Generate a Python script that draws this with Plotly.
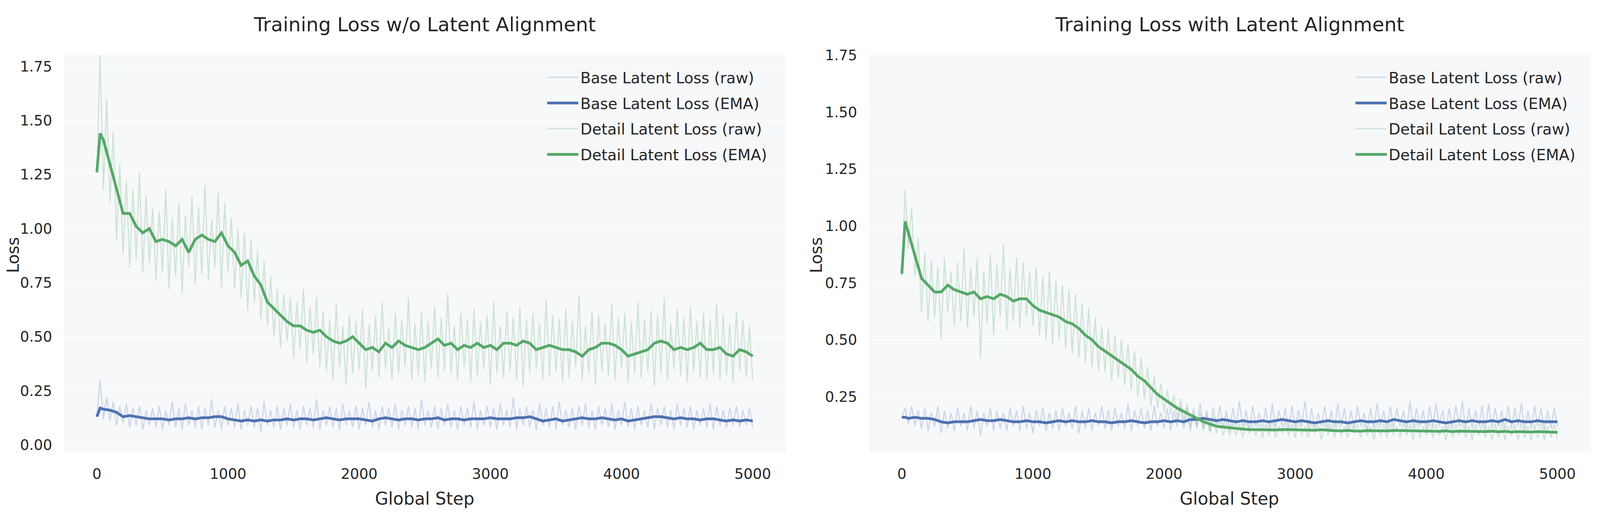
import plotly.graph_objects as go

# ---------------- data ----------------
RAW_STEPS = list(range(0, 5001, 25))
EMA_STEPS = [0, 25] + list(range(50, 5001, 50))

L_BASE_RAW = [0.13, 0.30, 0.12, 0.22, 0.11,
    0.20, 0.09, 0.18, 0.10, 0.19, 0.08, 0.17, 0.09, 0.18, 0.07, 0.16, 0.09, 0.17, 0.08,
    0.18, 0.07, 0.16, 0.09, 0.20, 0.08, 0.17, 0.07, 0.19, 0.09, 0.16, 0.08, 0.18, 0.07,
    0.17, 0.09, 0.21, 0.08, 0.16, 0.07, 0.18, 0.09, 0.17, 0.08, 0.19, 0.07, 0.16, 0.09,
    0.18, 0.08, 0.17, 0.06, 0.20, 0.09, 0.16, 0.08, 0.18, 0.07, 0.17, 0.09, 0.19, 0.08,
    0.16, 0.07, 0.18, 0.09, 0.17, 0.08, 0.21, 0.07, 0.16, 0.09, 0.18, 0.08, 0.17, 0.07,
    0.19, 0.09, 0.16, 0.08, 0.18, 0.07, 0.17, 0.09, 0.20, 0.08, 0.16, 0.07, 0.18, 0.09,
    0.17, 0.08, 0.19, 0.07, 0.16, 0.09, 0.18, 0.08, 0.17, 0.07, 0.21, 0.09, 0.16, 0.08,
    0.18, 0.07, 0.17, 0.09, 0.19, 0.08, 0.16, 0.07, 0.18, 0.09, 0.17, 0.08, 0.20, 0.07,
    0.16, 0.09, 0.18, 0.08, 0.17, 0.07, 0.19, 0.09, 0.16, 0.08, 0.22, 0.07, 0.17, 0.09,
    0.18, 0.08, 0.16, 0.07, 0.19, 0.09, 0.17, 0.08, 0.18, 0.07, 0.20, 0.09, 0.16, 0.08,
    0.17, 0.07, 0.18, 0.09, 0.19, 0.08, 0.16, 0.07, 0.18, 0.09, 0.17, 0.08, 0.19, 0.07,
    0.16, 0.09, 0.20, 0.08, 0.17, 0.07, 0.18, 0.09, 0.16, 0.08, 0.19, 0.07, 0.17, 0.09,
    0.18, 0.08, 0.16, 0.07, 0.19, 0.09, 0.17, 0.08, 0.18, 0.07, 0.16, 0.09, 0.17, 0.08,
    0.19, 0.07, 0.18, 0.09, 0.16, 0.08, 0.17, 0.09, 0.18, 0.08, 0.16, 0.09, 0.17, 0.08]

L_DET_RAW = [1.26, 1.80, 1.18, 1.60, 1.12,
    1.45, 0.95, 1.30, 0.88, 1.22, 0.82, 1.18, 0.86, 1.26, 0.80, 1.15, 0.84,
    1.10, 0.76, 1.08, 0.80, 1.18, 0.72, 1.05, 0.78, 1.12, 0.70, 1.06, 0.82,
    1.15, 0.74, 1.10, 0.79, 1.20, 0.76, 1.04, 0.82, 1.17, 0.73, 1.12, 0.80,
    1.05, 0.72, 1.00, 0.68, 0.98, 0.62, 0.95, 0.66, 0.90, 0.58, 0.85, 0.55,
    0.78, 0.50, 0.72, 0.45, 0.70, 0.48, 0.68, 0.40, 0.66, 0.44, 0.72, 0.38, 0.64, 0.42, 0.68, 0.36,
    0.62, 0.34, 0.58, 0.30, 0.65, 0.36, 0.55, 0.28, 0.60, 0.33, 0.57, 0.35,
    0.63, 0.26, 0.56, 0.34, 0.60, 0.31, 0.66, 0.35, 0.54, 0.30, 0.61, 0.33,
    0.58, 0.36, 0.68, 0.30, 0.56, 0.32, 0.62, 0.29, 0.57, 0.35, 0.64, 0.31,
    0.59, 0.34, 0.70, 0.33, 0.55, 0.30, 0.61, 0.36, 0.58, 0.29, 0.63, 0.32,
    0.57, 0.35, 0.60, 0.28, 0.66, 0.33, 0.55, 0.31, 0.62, 0.34, 0.59, 0.30,
    0.64, 0.27, 0.58, 0.33, 0.61, 0.35, 0.56, 0.30, 0.67, 0.32, 0.60, 0.34,
    0.58, 0.29, 0.63, 0.31, 0.57, 0.36, 0.69, 0.30, 0.55, 0.33, 0.62, 0.28,
    0.60, 0.34, 0.56, 0.32, 0.65, 0.30, 0.59, 0.35, 0.61, 0.29, 0.57, 0.33,
    0.66, 0.31, 0.58, 0.34, 0.62, 0.27, 0.60, 0.33, 0.68, 0.30, 0.56, 0.35,
    0.63, 0.32, 0.59, 0.29, 0.64, 0.34, 0.57, 0.31, 0.61, 0.30, 0.58, 0.33,
    0.65, 0.30, 0.60, 0.32, 0.56, 0.29, 0.62, 0.34, 0.58, 0.31, 0.55, 0.30]

L_BASE_EMA = [0.13, 0.17, 0.165, 0.16, 0.15, 0.13, 0.135, 0.13, 0.125, 0.12,
    0.12, 0.12, 0.115, 0.12, 0.12, 0.125, 0.12, 0.125, 0.125, 0.13,
    0.13, 0.12, 0.115, 0.11, 0.115, 0.11, 0.115, 0.11, 0.115, 0.115,
    0.12, 0.115, 0.12, 0.12, 0.115, 0.12, 0.125, 0.12, 0.115, 0.12,
    0.12, 0.12, 0.115, 0.11, 0.12, 0.125, 0.12, 0.115, 0.12, 0.12,
    0.115, 0.12, 0.12, 0.125, 0.115, 0.12, 0.12, 0.115, 0.12, 0.12,
    0.12, 0.125, 0.12, 0.12, 0.12, 0.125, 0.125, 0.13, 0.12, 0.11,
    0.115, 0.12, 0.11, 0.115, 0.12, 0.125, 0.12, 0.12, 0.125, 0.12,
    0.115, 0.12, 0.11, 0.115, 0.12, 0.125, 0.13, 0.13, 0.125, 0.12,
    0.125, 0.12, 0.12, 0.115, 0.12, 0.12, 0.115, 0.11, 0.115, 0.11,
    0.115, 0.11]

L_DET_EMA = [1.26, 1.44, 1.41, 1.30, 1.18, 1.07, 1.07, 1.01, 0.98, 1.00,
    0.94, 0.95, 0.94, 0.92, 0.95, 0.89, 0.95, 0.97, 0.95, 0.94,
    0.98, 0.92, 0.89, 0.83, 0.85, 0.78, 0.74, 0.66, 0.63, 0.60,
    0.57, 0.55, 0.55, 0.53, 0.52, 0.53, 0.50, 0.48, 0.47, 0.48,
    0.50, 0.47, 0.44, 0.45, 0.43, 0.47, 0.45, 0.48, 0.46, 0.45,
    0.44, 0.45, 0.47, 0.49, 0.46, 0.47, 0.44, 0.46, 0.45, 0.47,
    0.45, 0.46, 0.44, 0.47, 0.47, 0.46, 0.48, 0.47, 0.44, 0.45,
    0.46, 0.45, 0.44, 0.44, 0.43, 0.41, 0.44, 0.45, 0.47, 0.47,
    0.46, 0.44, 0.41, 0.42, 0.43, 0.44, 0.47, 0.48, 0.47, 0.44,
    0.45, 0.44, 0.45, 0.47, 0.44, 0.44, 0.45, 0.42, 0.41, 0.44,
    0.43, 0.41]

R_BASE_RAW = [0.16, 0.20, 0.13, 0.21, 0.12,
    0.19, 0.11, 0.20, 0.10, 0.18, 0.12, 0.21, 0.09, 0.19, 0.11, 0.18, 0.10, 0.20, 0.12,
    0.18, 0.10, 0.21, 0.11, 0.19, 0.08, 0.18, 0.12, 0.20, 0.10, 0.19, 0.11, 0.18, 0.10,
    0.20, 0.12, 0.19, 0.10, 0.21, 0.11, 0.18, 0.09, 0.19, 0.12, 0.20, 0.10, 0.18, 0.11,
    0.19, 0.10, 0.20, 0.12, 0.18, 0.11, 0.21, 0.09, 0.19, 0.11, 0.20, 0.10, 0.18, 0.12,
    0.21, 0.11, 0.19, 0.10, 0.20, 0.12, 0.18, 0.11, 0.22, 0.10, 0.19, 0.12, 0.20, 0.11,
    0.19, 0.10, 0.21, 0.12, 0.18, 0.11, 0.20, 0.10, 0.19, 0.12, 0.21, 0.11, 0.20, 0.10,
    0.18, 0.12, 0.22, 0.11, 0.19, 0.10, 0.20, 0.12, 0.21, 0.11, 0.19, 0.10, 0.20, 0.12,
    0.23, 0.11, 0.19, 0.10, 0.21, 0.12, 0.18, 0.11, 0.20, 0.10, 0.22, 0.11, 0.19, 0.12,
    0.20, 0.10, 0.21, 0.11, 0.19, 0.12, 0.23, 0.10, 0.20, 0.11, 0.18, 0.12, 0.21, 0.10,
    0.19, 0.11, 0.22, 0.12, 0.20, 0.10, 0.19, 0.11, 0.21, 0.12, 0.18, 0.10, 0.20, 0.11,
    0.22, 0.12, 0.19, 0.10, 0.21, 0.11, 0.20, 0.12, 0.19, 0.10, 0.23, 0.11, 0.20, 0.12,
    0.19, 0.10, 0.21, 0.11, 0.22, 0.12, 0.19, 0.10, 0.20, 0.11, 0.21, 0.12, 0.23, 0.10,
    0.20, 0.11, 0.19, 0.12, 0.21, 0.10, 0.22, 0.11, 0.20, 0.12, 0.19, 0.10, 0.21, 0.11,
    0.20, 0.12, 0.22, 0.10, 0.19, 0.11, 0.21, 0.12, 0.20, 0.10, 0.19, 0.11, 0.20, 0.12]

R_DET_RAW = [0.78, 1.16, 0.90, 1.08, 0.78,
    0.95, 0.62, 0.88, 0.58, 0.85, 0.60, 0.82, 0.50, 0.86, 0.62, 0.80, 0.56,
    0.84, 0.58, 0.90, 0.55, 0.82, 0.60, 0.86, 0.42, 0.80, 0.57, 0.88, 0.52,
    0.83, 0.60, 0.92, 0.54, 0.81, 0.58, 0.86, 0.55, 0.84, 0.60, 0.80, 0.56,
    0.82, 0.52, 0.78, 0.50, 0.80, 0.48, 0.76, 0.50, 0.74, 0.46,
    0.72, 0.44, 0.70, 0.42, 0.66, 0.40, 0.64, 0.38, 0.60, 0.36,
    0.56, 0.36, 0.55, 0.32, 0.52, 0.33, 0.50, 0.30, 0.48, 0.28,
    0.45, 0.25, 0.42, 0.24, 0.38, 0.21, 0.34, 0.20, 0.31, 0.18,
    0.28, 0.17, 0.26, 0.15, 0.24, 0.14, 0.22, 0.12, 0.20, 0.11,
    0.18, 0.10, 0.17, 0.09, 0.16, 0.09, 0.15, 0.08, 0.14, 0.08,
    0.14, 0.08, 0.13, 0.07, 0.15, 0.09, 0.13, 0.08, 0.14, 0.07,
    0.13, 0.08, 0.15, 0.07, 0.12, 0.09, 0.14, 0.08, 0.13, 0.07,
    0.15, 0.08, 0.12, 0.07, 0.14, 0.09, 0.13, 0.06, 0.14, 0.08,
    0.13, 0.07, 0.15, 0.08, 0.12, 0.07, 0.14, 0.09, 0.13, 0.07,
    0.14, 0.08, 0.12, 0.06, 0.15, 0.08, 0.13, 0.07, 0.14, 0.08,
    0.12, 0.07, 0.14, 0.08, 0.13, 0.06, 0.15, 0.07, 0.12, 0.08,
    0.14, 0.07, 0.13, 0.08, 0.12, 0.06, 0.14, 0.07, 0.13, 0.08,
    0.15, 0.07, 0.12, 0.06, 0.13, 0.08, 0.14, 0.07, 0.12, 0.06,
    0.13, 0.07, 0.14, 0.06, 0.12, 0.08, 0.13, 0.06, 0.14, 0.07,
    0.12, 0.06, 0.13, 0.07, 0.14, 0.06, 0.12, 0.07, 0.13, 0.07]

R_BASE_EMA = [0.16, 0.16, 0.155, 0.16, 0.155, 0.155, 0.15, 0.14, 0.135, 0.14,
    0.14, 0.14, 0.145, 0.15, 0.145, 0.145, 0.15, 0.145, 0.14, 0.14,
    0.145, 0.14, 0.14, 0.135, 0.14, 0.145, 0.14, 0.145, 0.14, 0.14,
    0.145, 0.14, 0.14, 0.135, 0.14, 0.14, 0.145, 0.14, 0.135, 0.14,
    0.14, 0.145, 0.14, 0.145, 0.14, 0.15, 0.15, 0.155, 0.15, 0.145,
    0.15, 0.145, 0.14, 0.145, 0.14, 0.14, 0.145, 0.14, 0.145, 0.15,
    0.145, 0.14, 0.145, 0.14, 0.135, 0.14, 0.145, 0.14, 0.14, 0.135,
    0.14, 0.145, 0.14, 0.14, 0.145, 0.14, 0.15, 0.145, 0.14, 0.145,
    0.14, 0.14, 0.145, 0.14, 0.135, 0.14, 0.145, 0.14, 0.145, 0.14,
    0.14, 0.145, 0.14, 0.15, 0.14, 0.145, 0.14, 0.14, 0.145, 0.14,
    0.14, 0.14]

R_DET_EMA = [0.79, 1.02, 0.97, 0.87, 0.77, 0.74, 0.71, 0.71, 0.74, 0.72,
    0.71, 0.70, 0.71, 0.68, 0.69, 0.68, 0.70, 0.69, 0.67, 0.68,
    0.68, 0.65, 0.63, 0.62, 0.61, 0.60, 0.58, 0.57, 0.55, 0.52,
    0.50, 0.47, 0.45, 0.43, 0.41, 0.39, 0.37, 0.34, 0.32, 0.29,
    0.26, 0.24, 0.22, 0.20, 0.185, 0.17, 0.155, 0.14, 0.13, 0.12,
    0.117, 0.113, 0.11, 0.108, 0.106, 0.105, 0.104, 0.103, 0.104, 0.106,
    0.105, 0.107, 0.105, 0.104, 0.103, 0.105, 0.102, 0.101, 0.100, 0.102,
    0.100, 0.099, 0.101, 0.100, 0.098, 0.100, 0.102, 0.101, 0.103, 0.100,
    0.101, 0.100, 0.099, 0.098, 0.100, 0.097, 0.099, 0.098, 0.100, 0.098,
    0.097, 0.099, 0.096, 0.098, 0.095, 0.097, 0.096, 0.095, 0.097, 0.096,
    0.095, 0.094]

TITLES = ["Training Loss w/o Latent Alignment", "Training Loss with Latent Alignment"]
X_TICKS = [0, 1000, 2000, 3000, 4000, 5000]
Y_TICKS_L = [0.00, 0.25, 0.50, 0.75, 1.00, 1.25, 1.50, 1.75]
Y_TICKS_R = [0.25, 0.50, 0.75, 1.00, 1.25, 1.50, 1.75]
NAMES = ["Base Latent Loss (raw)", "Base Latent Loss (EMA)",
         "Detail Latent Loss (raw)", "Detail Latent Loss (EMA)"]

# ---------------- style ----------------
FONT = "DejaVu Sans"
TXT = "#262626"
BLUE = "#4C72B0"
GREEN = "#55A868"
BLUE_RAW = "rgba(76,114,176,0.25)"
GREEN_RAW = "rgba(85,168,104,0.25)"
PLOT_BG = "#F7F8FA"

# browser viewport is 4096 px wide: horizontal geometry scaled from 5000 px reference
W, H = 4096, 1315
SX = W / 5000.0
ML, MR, MT, MB = round(190 * SX), round(40 * SX), 133, 167
PW = W - ML - MR
PH = H - MT - MB
LD = [0, (2445 * SX - ML) / PW]
RD = [(2706 * SX - ML) / PW, 1]

FS_TICK = 37
FS_LEG = 39
FS_AX = 42
FS_TITLE = 50

fig = go.Figure()

panels = [
    ("x", "y", "legend", L_BASE_RAW, L_BASE_EMA, L_DET_RAW, L_DET_EMA),
    ("x2", "y2", "legend2", R_BASE_RAW, R_BASE_EMA, R_DET_RAW, R_DET_EMA),
]
for pi, (xa, ya, lg, br, be, dr, de) in enumerate(panels):
    series = [
        (RAW_STEPS, br, BLUE_RAW, 3.0),
        (EMA_STEPS, be, BLUE, 7.0),
        (RAW_STEPS, dr, GREEN_RAW, 3.0),
        (EMA_STEPS, de, GREEN, 7.0),
    ]
    for si, (xs, ys, col, w) in enumerate(series):
        fig.add_trace(go.Scatter(
            x=xs, y=ys, mode="lines", name=NAMES[si],
            line=dict(color=col, width=w),
            xaxis=xa, yaxis=ya, legend=lg,
            legendgroup=f"p{pi}s{si}", showlegend=True,
        ))

axis_common = dict(
    showline=False, zeroline=False, ticks="outside", tickcolor="rgba(0,0,0,0)",
    tickfont=dict(family=FONT, size=FS_TICK, color=TXT),
)

leg_common = dict(xanchor="left", y=1 - (158 - MT) / PH, yanchor="top",
                  bgcolor="rgba(0,0,0,0)", font=dict(family=FONT, size=FS_LEG, color=TXT),
                  tracegroupgap=12, itemwidth=80)

fig.update_layout(
    width=W, height=H,
    margin=dict(l=ML, r=MR, t=MT, b=MB, pad=0),
    paper_bgcolor="white", plot_bgcolor=PLOT_BG,
    font=dict(family=FONT, color=TXT),
    xaxis=dict(domain=LD, range=[-250, 5250], tickvals=X_TICKS, showgrid=False,
               ticklen=24, anchor="y", **axis_common),
    yaxis=dict(domain=[0, 1], range=[-0.0325, 1.802], tickvals=Y_TICKS_L,
               ticktext=[f"{v:.2f}" for v in Y_TICKS_L], showgrid=True,
               gridcolor="#FBFCFD", gridwidth=2, ticklen=22, anchor="x", **axis_common),
    xaxis2=dict(domain=RD, range=[-250, 5250], tickvals=X_TICKS, showgrid=False,
                ticklen=24, anchor="y2", **axis_common),
    yaxis2=dict(domain=[0, 1], range=[0.008, 1.75], tickvals=Y_TICKS_R,
                ticktext=[f"{v:.2f}" for v in Y_TICKS_R], showgrid=True,
                gridcolor="#FBFCFD", gridwidth=2, ticklen=22, anchor="x2", **axis_common),
    legend=dict(x=(1700 * SX - 5 - ML) / PW, **leg_common),
    legend2=dict(x=(4226 * SX - 5 - ML) / PW, **leg_common),
    showlegend=True,
)

annos = []
for dom, title, ycx in [(LD, TITLES[0], 30), (RD, TITLES[1], 2540)]:
    cx = (dom[0] + dom[1]) / 2
    annos.append(dict(text=title, x=cx, y=1 + (MT - 55) / PH, xref="paper", yref="paper",
                      xanchor="center", yanchor="middle", showarrow=False,
                      font=dict(family=FONT, size=FS_TITLE, color=TXT)))
    annos.append(dict(text="Global Step", x=cx, y=-(1267 - (MT + PH)) / PH, xref="paper",
                      yref="paper", xanchor="center", yanchor="middle", showarrow=False,
                      font=dict(family=FONT, size=FS_AX + 2, color=TXT)))
    annos.append(dict(text="Loss", x=(ycx * SX - ML) / PW, y=1 - (645 - MT) / PH, xref="paper",
                      yref="paper", xanchor="center", yanchor="middle", showarrow=False,
                      textangle=-90, font=dict(family=FONT, size=FS_AX, color=TXT)))
fig.update_layout(annotations=annos)

fig.write_html("out.html")
